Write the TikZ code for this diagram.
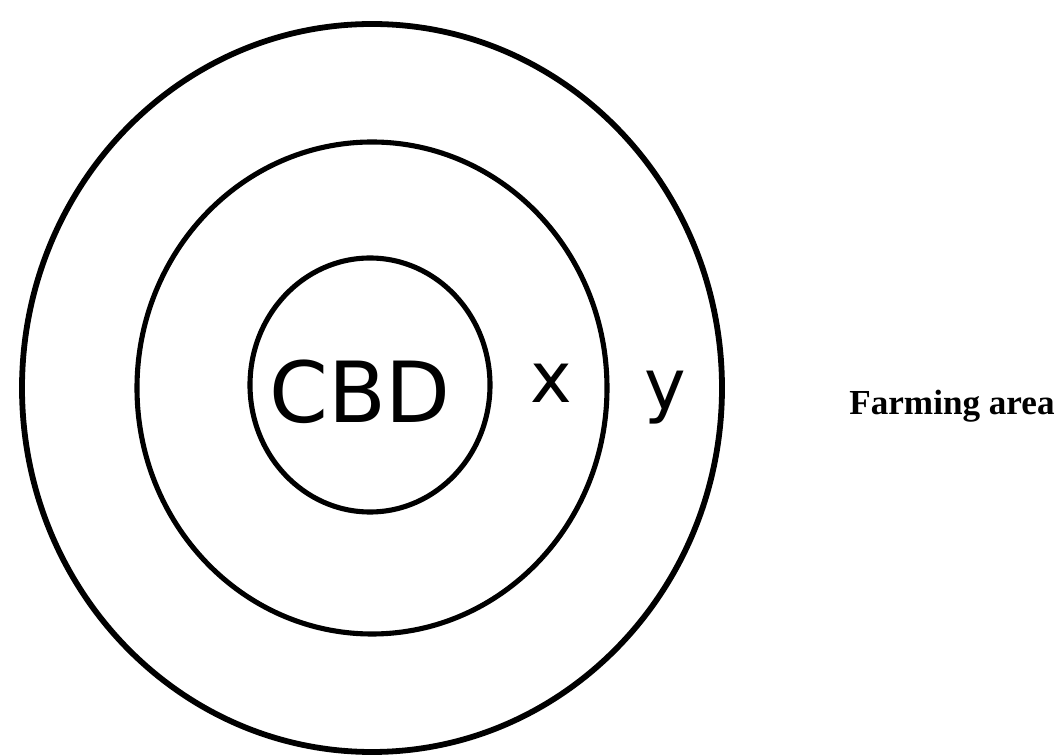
\documentclass[tikz,border=0pt]{standalone}
\usepackage{fontspec}
\setmainfont{Liberation Serif}
\newfontfamily\handfont{DejaVu Sans}
\usepackage{tikz}
\usetikzlibrary{positioning}

\begin{document}
\begin{tikzpicture}[x=0.02cm,y=-0.02cm,
  ring/.style={draw=black,line width=2.9pt},
  hand/.style={font=\handfont\fontsize{48}{50}\selectfont,inner sep=0pt},
  zone/.style={font=\handfont\fontsize{40}{42}\selectfont,inner sep=0pt}]
\useasboundingbox (0,0) rectangle (1063,756);
% zones, outer to inner
\draw[ring,line width=3.3pt] (372,388) ellipse [x radius=350,y radius=364];
\draw[ring] (372,388) ellipse [x radius=235,y radius=246];
\draw[ring] (370,385) ellipse [x radius=120,y radius=127];
% labels
\node[hand] (cbd) at (360,392) {CBD};
\node[zone] (zx) at (551,383) {x};
\node[zone] (zy) at (665,398) {y};
\node[font=\bfseries\fontsize{20}{22}\selectfont,anchor=base west,inner sep=0pt] (farm) at (849,415) {Farming area};
\end{tikzpicture}
\end{document}
